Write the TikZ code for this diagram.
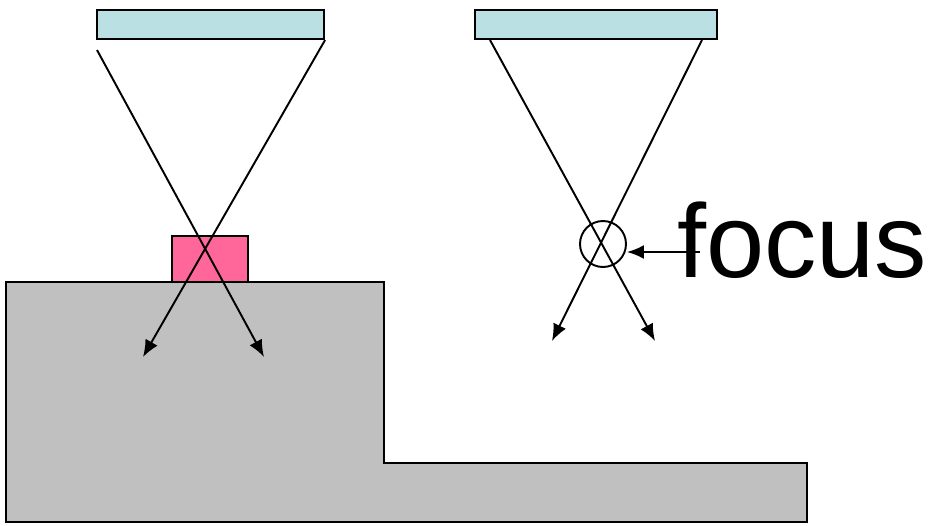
\documentclass[tikz,border=0pt]{standalone}
\usepackage{fontspec}
\setmainfont{Liberation Sans}
\usetikzlibrary{arrows.meta}

\definecolor{lensblue}{RGB}{187,224,227}
\definecolor{samplepink}{RGB}{255,102,153}
\definecolor{stagegray}{RGB}{192,192,192}

\begin{document}
\begin{tikzpicture}[
  x=0.02cm, y=-0.02cm,
  lens/.style={draw=black, fill=lensblue, line width=1.2pt},
  sample/.style={draw=black, fill=samplepink, line width=1.2pt},
  ray/.style={-{Latex[length=3.4mm, width=2.8mm]}, line width=1.1pt},
]
  \useasboundingbox (0,0) rectangle (931,525);

  % stage
  \draw[fill=stagegray, line width=1.4pt]
    (6,282) -- (384,282) -- (384,463) -- (807,463) -- (807,522) -- (6,522) -- cycle;

  % lenses and sample
  \node[lens, minimum width=227*0.02cm, minimum height=29*0.02cm, inner sep=0pt]
    (lensL) at (210.5,24.5) {};
  \node[lens, minimum width=242*0.02cm, minimum height=29*0.02cm, inner sep=0pt]
    (lensR) at (596,24.5) {};
  \node[sample, minimum width=76*0.02cm, minimum height=46*0.02cm, inner sep=0pt]
    (sample) at (210,259) {};

  % left rays
  \coordinate (startLa) at (97,50);
  \coordinate (endLa) at (264,357);
  \coordinate (endLb) at (143,357);
  \draw[ray] (startLa) -- (endLa);
  \draw[ray] (lensL.south east) -- (endLb);

  % right rays
  \coordinate (startRa) at (490,40);
  \coordinate (startRb) at (702,40);
  \coordinate (endRa) at (655,341);
  \coordinate (endRb) at (552,341);
  \draw[ray] (startRa) -- (endRa);
  \draw[ray] (startRb) -- (endRb);

  % focus
  \node[draw=black, circle, line width=1.1pt, minimum size=46*0.02cm, inner sep=0pt]
    (focus) at (603,244) {};
  \node[anchor=base west, inner sep=0pt, font=\fontsize{59.5}{62}\selectfont]
    (label) at (677,277) {focus};
  \coordinate (tail) at (700,252);
  \draw[ray] (tail) -- (focus.east |- tail);
\end{tikzpicture}
\end{document}
